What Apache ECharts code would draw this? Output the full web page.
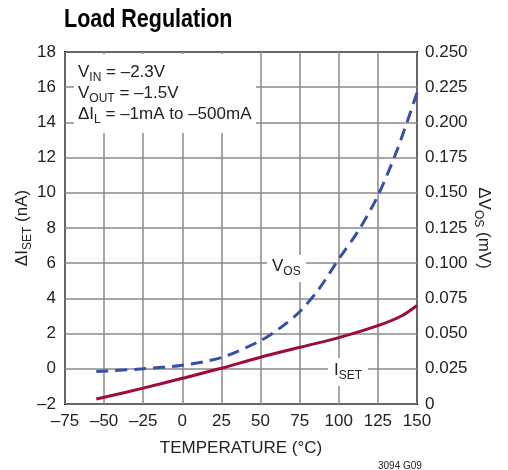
<!DOCTYPE html>
<html>
<head>
<meta charset="utf-8">
<script src="https://cdn.jsdelivr.net/npm/echarts@6/dist/echarts.min.js"></script>
<style>
  html, body { margin: 0; padding: 0; background: #fff; }
  #chart { width: 508px; height: 470px; }
</style>
</head>
<body>
<div id="chart"></div>
<script>
const isetTemps = [-55, -25, 0, 25, 50, 75, 100, 125, 140, 150]
const isetValues = [-1.72, -1.1, -0.54, 0.03, 0.66, 1.22, 1.77, 2.45, 3.0, 3.6]
const vosTemps = [-55, -25, 0, 25, 50, 62.5, 75, 87.5, 100, 112.5, 125, 137.5, 150]
const vosValues = [0.023, 0.025, 0.0275, 0.033, 0.045, 0.054, 0.0655, 0.082, 0.103, 0.123, 0.148, 0.181, 0.221]

const font = '"Liberation Sans", Arial, sans-serif'
const red = '#9e0a3a'
const blue = '#3550a8'
const gridColor = '#8a8a8a'
const dash = s => String(s).replace('-', '\u2013')

const chart = echarts.init(document.getElementById('chart'))

const textStyle = {
  fontFamily: font,
  fontSize: 17,
  color: '#222'
}
const subRich = (fill) => ({
  t: { fontFamily: font, fontSize: 17, [fill]: '#222', verticalAlign: 'top', lineHeight: 20 },
  s: { fontFamily: font, fontSize: 12, [fill]: '#222', verticalAlign: 'top', padding: [8, 0, 0, 0] }
})

chart.setOption({
  animation: false,
  grid: {
    left: 65, right: 91, top: 52, bottom: 66,
    show: true, borderColor: '#000', borderWidth: 2, backgroundColor: 'transparent'
  },
  xAxis: {
    type: 'value',
    min: -75, max: 150, interval: 25,
    name: 'TEMPERATURE (°C)',
    nameLocation: 'middle',
    nameGap: 36,
    nameTextStyle: textStyle,
    axisLine: { show: false },
    axisTick: { show: false },
    axisLabel: Object.assign({ margin: 9, formatter: v => dash(v) }, textStyle),
    splitLine: { lineStyle: { color: gridColor, width: 1.5 } }
  },
  yAxis: [
    {
      type: 'value',
      min: -2, max: 18, interval: 2,
      name: '{t|\u0394I}{s|SET}{t| (nA)}',
      nameLocation: 'middle',
      nameGap: 31,
      nameMoveOverlap: false,
      nameTextStyle: { rich: subRich('color') },
      axisLine: { show: false },
      axisTick: { show: false },
      axisLabel: Object.assign({ margin: 9, formatter: v => dash(v) }, textStyle),
      splitLine: { lineStyle: { color: gridColor, width: 1.5 } }
    },
    {
      type: 'value',
      min: 0, max: 0.25, interval: 0.025,
      position: 'right',
      name: '{t|\u0394V}{s|OS}{t| (mV)}',
      nameLocation: 'middle',
      nameGap: 55,
      nameMoveOverlap: false,
      nameRotate: -90,
      nameTextStyle: { rich: subRich('color') },
      axisLine: { show: false },
      axisTick: { show: false },
      axisLabel: Object.assign({ margin: 8, formatter: v => (v === 0 ? '0' : v.toFixed(3)) }, textStyle),
      splitLine: { show: false }
    }
  ],
  series: [
    {
      name: 'ISET',
      type: 'line',
      yAxisIndex: 0,
      smooth: 0.3,
      symbol: 'none',
      z: 3,
      lineStyle: { color: red, width: 3 },
      data: isetTemps.map((t, i) => [t, isetValues[i]])
    },
    {
      name: 'VOS',
      type: 'line',
      yAxisIndex: 1,
      smooth: 0.3,
      symbol: 'none',
      z: 3,
      lineStyle: { color: blue, width: 3, type: [12, 7] },
      data: vosTemps.map((t, i) => [t, vosValues[i]])
    }
  ],
  graphic: [
    {
      type: 'text', z: 6, left: 64, top: 8, scaleX: 0.86,
      style: { text: 'Load Regulation', fontFamily: font, fontWeight: 'bold', fontSize: 25, fill: '#000' }
    },
    { type: 'rect', z: 5, shape: { x: 74, y: 54, width: 182, height: 79 }, style: { fill: '#fff' } },
    {
      type: 'text', z: 6, left: 78, top: 64,
      style: {
        text: '{t|V}{s|IN}{t| = \u20132.3V}\n{t|V}{s|OUT}{t| = \u20131.5V}\n{t|\u0394I}{s|L}{t| = \u20131mA to \u2013500mA}',
        rich: {
          t: { fontFamily: font, fontSize: 17, fill: '#222', verticalAlign: 'top', lineHeight: 21 },
          s: { fontFamily: font, fontSize: 12, fill: '#222', verticalAlign: 'top', padding: [8, 0, 0, 0] }
        }
      }
    },
    { type: 'rect', z: 5, shape: { x: 267, y: 255, width: 39, height: 27 }, style: { fill: '#fff' } },
    {
      type: 'text', z: 6, left: 272, top: 258,
      style: { text: '{t|V}{s|OS}', rich: subRich('fill') }
    },
    { type: 'rect', z: 5, shape: { x: 328, y: 358, width: 40, height: 28 }, style: { fill: '#fff' } },
    {
      type: 'text', z: 6, left: 334, top: 362,
      style: { text: '{t|I}{s|SET}', rich: subRich('fill') }
    },
    {
      type: 'text', z: 6, left: 378, top: 461,
      style: { text: '3094 G09', fontFamily: font, fontSize: 10, fill: '#222' }
    }
  ]
})
</script>
</body>
</html>
